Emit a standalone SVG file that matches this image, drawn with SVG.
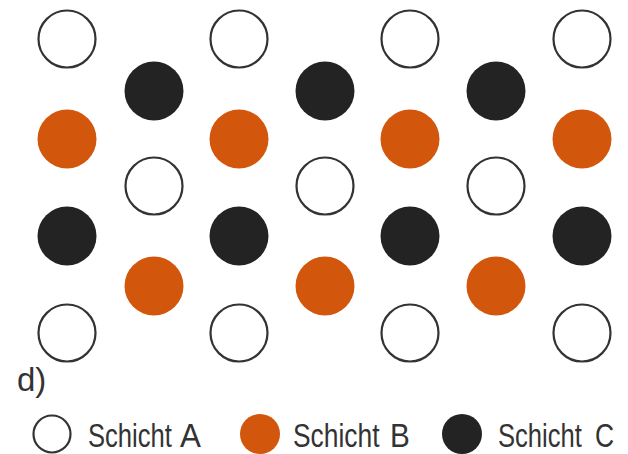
<svg xmlns="http://www.w3.org/2000/svg" width="628" height="454" viewBox="0 0 628 454">
<style>
.a{fill:#fff;stroke:#333;stroke-width:2.2}
.b{fill:#d2560c}
.c{fill:#232323}
.t{font-family:"Liberation Sans",Arial,sans-serif;font-size:33px;fill:#333}
</style>
<rect width="628" height="454" fill="#fff"/>
<g id="row1"><circle class="a" cx="67" cy="39" r="28.5"/><circle class="a" cx="239" cy="39" r="28.5"/><circle class="a" cx="410" cy="39" r="28.5"/><circle class="a" cx="582" cy="39" r="28.5"/></g>
<g id="row2"><circle class="c" cx="154" cy="91" r="29.5"/><circle class="c" cx="325" cy="91" r="29.5"/><circle class="c" cx="496" cy="91" r="29.5"/></g>
<g id="row3"><circle class="b" cx="67" cy="139" r="29.5"/><circle class="b" cx="239" cy="139" r="29.5"/><circle class="b" cx="410" cy="139" r="29.5"/><circle class="b" cx="582" cy="139" r="29.5"/></g>
<g id="row4"><circle class="a" cx="154" cy="186" r="28.5"/><circle class="a" cx="325" cy="186" r="28.5"/><circle class="a" cx="496" cy="186" r="28.5"/></g>
<g id="row5"><circle class="c" cx="67" cy="236" r="29.5"/><circle class="c" cx="239" cy="236" r="29.5"/><circle class="c" cx="410" cy="236" r="29.5"/><circle class="c" cx="582" cy="236" r="29.5"/></g>
<g id="row6"><circle class="b" cx="154" cy="286" r="29.5"/><circle class="b" cx="325" cy="286" r="29.5"/><circle class="b" cx="496" cy="286" r="29.5"/></g>
<g id="row7"><circle class="a" cx="67" cy="333" r="28.5"/><circle class="a" cx="239" cy="333" r="28.5"/><circle class="a" cx="410" cy="333" r="28.5"/><circle class="a" cx="582" cy="333" r="28.5"/></g>
<g id="label"><text class="t" x="17" y="391" font-size="30">d)</text></g>
<g id="legendA"><circle class="a" cx="52" cy="434" r="18.5"/><text class="t" transform="translate(88,447) scale(0.776,1)">Schicht</text><text class="t" transform="translate(180,447) scale(0.95,1)">A</text></g>
<g id="legendB"><circle class="b" cx="260" cy="434" r="20"/><text class="t" transform="translate(293,447) scale(0.8,1)">Schicht</text><text class="t" transform="translate(390,447) scale(0.9,1)" fill="#d9925c">B</text></g>
<g id="legendC"><circle class="c" cx="462" cy="434" r="20"/><text class="t" transform="translate(498,447) scale(0.776,1)">Schicht</text><text class="t" transform="translate(595,447) scale(0.8,1)">C</text></g>
</svg>
